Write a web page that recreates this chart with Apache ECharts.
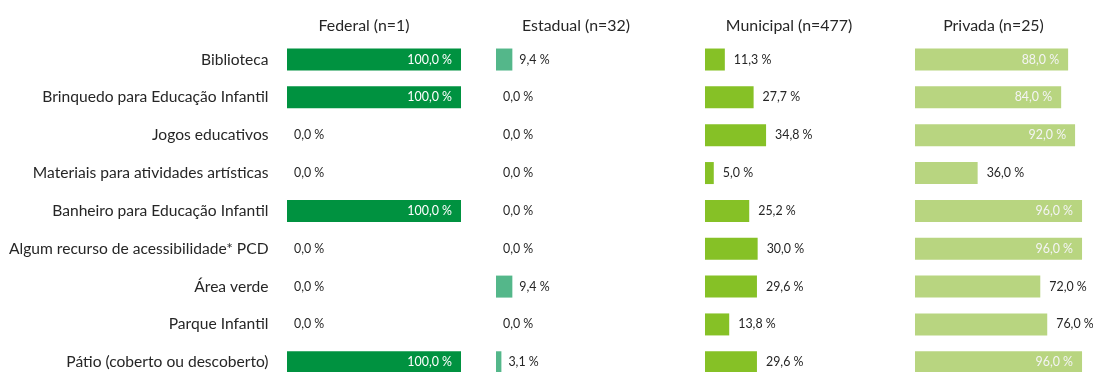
<!DOCTYPE html>
<html>
<head>
<meta charset="utf-8">
<script src="https://cdn.jsdelivr.net/npm/echarts@6/dist/echarts.min.js"></script>
<style>
  html, body { margin: 0; padding: 0; background: #ffffff; overflow: hidden; }
  /* the last row runs past the bottom edge of the 372px view, so the canvas is taller */
  #chart { width: 1093px; height: 390px; }
</style>
</head>
<body>
<div id="chart"></div>
<script>
// Infrastructure items available, by school network (share of schools, %)
const categories = [
  'Biblioteca',
  'Brinquedo para Educação Infantil',
  'Jogos educativos',
  'Materiais para atividades artísticas',
  'Banheiro para Educação Infantil',
  'Algum recurso de acessibilidade* PCD',
  'Área verde',
  'Parque Infantil',
  'Pátio (coberto ou descoberto)'
];
const panelTitles = ['Federal (n=1)', 'Estadual (n=32)', 'Municipal (n=477)', 'Privada (n=25)'];
const federal   = [100, 100, 0, 0, 100, 0, 0, 0, 100];
const estadual  = [9.4, 0, 0, 0, 0, 0, 9.4, 0, 3.1];
const municipal = [11.3, 27.7, 34.8, 5.0, 25.2, 30.0, 29.6, 13.8, 29.6];
const privada   = [88, 84, 92, 36, 96, 96, 72, 76, 96];

const seriesValues = [federal, estadual, municipal, privada];
const colors = ['#009240', '#54b78a', '#86c126', '#b8d580'];
const insideColors = ['#ffffff', '#ffffff', '#ffffff', '#f4f4f4'];

// panel geometry
const panels = [
  { left: 287, width: 174,   titleX: 359,   labelGap: 7 },
  { left: 496, width: 174,   titleX: 571,   labelGap: 7 },
  { left: 705, width: 175.5, titleX: 784,   labelGap: 9 },
  { left: 915, width: 174,   titleX: 988.5, labelGap: 9 }
];
const gridTop = 40.6;
const gridHeight = 340.6;
const FONT = 'Lato';

const fmt = v => v.toFixed(1).replace('.', ',') + ' %';

const option = {
  animation: false,
  backgroundColor: '#ffffff',
  textStyle: { fontFamily: FONT },
  title: panels.map((p, i) => ({
    text: panelTitles[i],
    left: p.titleX,
    top: 12.5,
    textAlign: 'center',
    textStyle: { fontFamily: FONT, fontSize: 15.9, fontWeight: 'normal', color: '#262626' }
  })),
  grid: panels.map(p => ({ left: p.left, width: p.width, top: gridTop, height: gridHeight, containLabel: false })),
  xAxis: panels.map((p, i) => ({
    type: 'value', gridIndex: i, min: 0, max: 100, show: false
  })),
  yAxis: panels.map((p, i) => ({
    type: 'category', gridIndex: i, data: categories, inverse: true,
    axisLine: { show: false }, axisTick: { show: false }, splitLine: { show: false },
    axisLabel: {
      show: i === 0, margin: 18.5, fontFamily: FONT, fontSize: 15.6, color: '#262626'
    }
  })),
  series: seriesValues.map((vals, i) => ({
    type: 'bar',
    xAxisIndex: i, yAxisIndex: i,
    barWidth: 22,
    itemStyle: { color: colors[i] },
    data: vals.map(v => {
      const inside = v >= 80;
      return {
        value: v,
        label: {
          show: true,
          position: inside ? 'insideRight' : 'right',
          distance: inside ? 9 : panels[i].labelGap,
          color: inside ? insideColors[i] : '#262626',
          fontFamily: FONT,
          fontSize: 12.4,
          formatter: () => fmt(v)
        }
      };
    })
  }))
};

echarts.init(document.getElementById('chart'), null, { renderer: 'canvas' }).setOption(option);
</script>
</body>
</html>
